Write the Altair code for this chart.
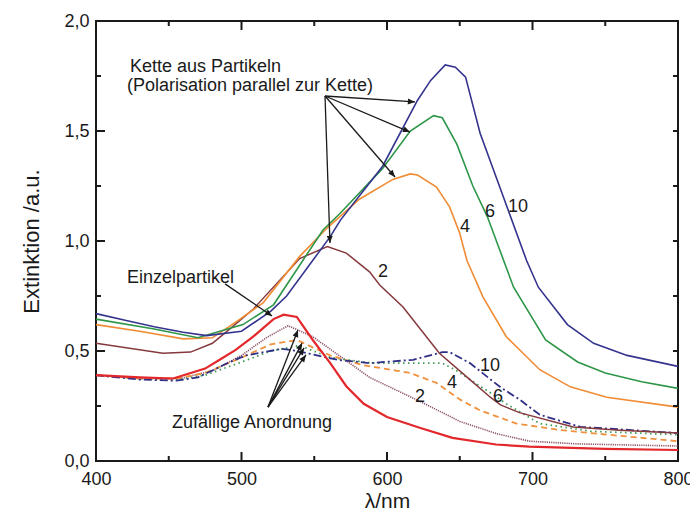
import math
import altair as alt
import pandas as pd

# ---------------- data ----------------
# Chain of particles, polarisation parallel to the chain
chain10_x = [400, 420, 440, 460, 476, 500, 520, 531, 561, 568, 597, 621, 630, 640, 647, 654, 664, 680, 696, 704, 724, 742, 765, 800]
chain10_y = [0.67, 0.64, 0.61, 0.585, 0.57, 0.59, 0.68, 0.75, 1.02, 1.095, 1.34, 1.64, 1.73, 1.80, 1.79, 1.745, 1.49, 1.20, 0.91, 0.79, 0.62, 0.535, 0.48, 0.43]

chain6_x = [400, 440, 470, 501, 522, 556, 568, 597, 616, 632, 638, 648, 659, 669, 678, 687, 709, 731, 750, 775, 800]
chain6_y = [0.645, 0.60, 0.56, 0.62, 0.71, 1.05, 1.127, 1.33, 1.50, 1.57, 1.56, 1.44, 1.25, 1.11, 0.95, 0.79, 0.55, 0.45, 0.40, 0.36, 0.33]

chain4_x = [400, 430, 460, 480, 498, 515, 540, 559, 581, 604, 616, 621, 634, 643, 650, 655, 666, 682, 705, 726, 751, 800]
chain4_y = [0.62, 0.59, 0.555, 0.56, 0.64, 0.72, 0.93, 1.06, 1.19, 1.28, 1.305, 1.30, 1.245, 1.155, 1.035, 0.91, 0.745, 0.565, 0.415, 0.337, 0.29, 0.245]

chain2_x = [400, 446, 465, 480, 491, 508, 540, 559, 572, 588, 595, 611, 636, 657, 671, 678, 691, 728, 760, 800]
chain2_y = [0.535, 0.49, 0.495, 0.535, 0.595, 0.69, 0.92, 0.975, 0.945, 0.86, 0.80, 0.70, 0.49, 0.37, 0.29, 0.255, 0.22, 0.155, 0.14, 0.127]

# Single particle
single_x = [400, 430, 453, 475, 485, 496, 508, 522, 529, 538, 549, 561, 572, 584, 600, 623, 645, 675, 698, 750, 800]
single_y = [0.39, 0.38, 0.375, 0.42, 0.46, 0.505, 0.565, 0.645, 0.665, 0.655, 0.55, 0.445, 0.34, 0.26, 0.20, 0.15, 0.105, 0.075, 0.065, 0.055, 0.05]

# Random arrangement
rand2_x = [400, 430, 458, 480, 500, 517, 532, 549, 568, 588, 623, 650, 675, 698, 730, 800]
rand2_y = [0.39, 0.375, 0.375, 0.41, 0.48, 0.56, 0.615, 0.565, 0.475, 0.38, 0.27, 0.18, 0.125, 0.09, 0.078, 0.068]

rand4_x = [400, 430, 455, 475, 500, 520, 538, 561, 584, 607, 616, 634, 650, 664, 689, 720, 751, 800]
rand4_y = [0.39, 0.375, 0.375, 0.40, 0.47, 0.53, 0.55, 0.48, 0.435, 0.41, 0.40, 0.355, 0.28, 0.23, 0.17, 0.14, 0.12, 0.09]

rand6_x = [400, 430, 455, 475, 500, 520, 540, 561, 590, 638, 648, 671, 682, 705, 740, 800]
rand6_y = [0.39, 0.375, 0.37, 0.39, 0.45, 0.50, 0.525, 0.47, 0.445, 0.445, 0.41, 0.31, 0.26, 0.17, 0.135, 0.12]

rand10_x = [400, 430, 455, 470, 492, 503, 528, 538, 566, 588, 618, 638, 643, 657, 678, 691, 705, 733, 800]
rand10_y = [0.39, 0.37, 0.365, 0.38, 0.45, 0.48, 0.51, 0.50, 0.46, 0.445, 0.46, 0.495, 0.495, 0.445, 0.335, 0.28, 0.21, 0.155, 0.127]

# Axis ticks / labels
x_label_values = [400, 500, 600, 700, 800]
x_major_ticks = [400, 500, 600, 700, 800]
x_minor_ticks = [450, 550, 650, 750]
y_label_values = [0.0, 0.5, 1.0, 1.5, 2.0]
y_major_ticks = [0.0, 0.5, 1.0, 1.5, 2.0]
y_minor_ticks = [0.25, 0.75, 1.25, 1.75]

# Annotation texts
note_text = ["Kette aus Partikeln", "(Polarisation parallel zur Kette)", "Einzelpartikel", "Zufällige Anordnung"]
note_x = [423.4, 421.3, 421.3, 452.2]
note_y = [1.79, 1.705, 0.832, 0.173]

# Curve number labels
num_text = ["10", "6", "4", "2", "10", "4", "6", "2"]
num_x = [690, 670.8, 653.6, 597.3, 670.8, 644.7, 676.3, 622.7]
num_y = [1.155, 1.132, 1.064, 0.859, 0.432, 0.355, 0.291, 0.291]

# Arrows (start -> end)
arrow_x0 = [557.4, 557.4, 557.4, 557.4, 488.7, 518.2, 518.2, 518.2, 518.2]
arrow_y0 = [1.659, 1.659, 1.659, 1.659, 0.805, 0.245, 0.245, 0.245, 0.245]
arrow_x1 = [619.2, 615.8, 605.5, 560.8, 521.0, 538.8, 541.6, 543.0, 544.3]
arrow_y1 = [1.632, 1.495, 1.291, 0.991, 0.659, 0.595, 0.536, 0.514, 0.482]

# ---------------- chart ----------------
W, H = 582, 440
FONT = "Liberation Sans"
INK = "#1a1a1a"

x_scale = alt.Scale(domain=[400, 800], nice=False, zero=False)
y_scale = alt.Scale(domain=[0, 2], nice=False, zero=False)

x_axis = alt.Axis(title="λ/nm", values=x_label_values, format="d", ticks=False, domain=False,
                  grid=False, labelFontSize=18, labelFont=FONT, labelColor=INK, labelPadding=9,
                  labelFlush=False, labelOverlap=False,
                  titleFontSize=21, titleFont=FONT, titleFontWeight="normal", titleColor=INK,
                  titlePadding=2)
y_axis = alt.Axis(title="Extinktion /a.u.", values=y_label_values,
                  labelExpr="replace(format(datum.value, '.1f'), '.', ',')",
                  ticks=False, domain=False, grid=False, labelFontSize=18, labelFont=FONT,
                  labelColor=INK, labelPadding=7, labelFlush=False, labelOverlap=False,
                  titleFontSize=22, titleFont=FONT, titleFontWeight="normal", titleColor=INK,
                  titlePadding=20)

X = lambda f: alt.X(f, type="quantitative", scale=x_scale, axis=x_axis)
Y = lambda f: alt.Y(f, type="quantitative", scale=y_scale, axis=y_axis)


def line(xs, ys, color, width, dash=None):
    d = pd.DataFrame({"x": xs, "y": ys, "o": range(len(xs))})
    kw = dict(color=color, strokeWidth=width, interpolate="linear")
    if dash:
        kw["strokeDash"] = dash
    return alt.Chart(d).mark_line(**kw).encode(x=X("x"), y=Y("y"), order="o:Q")


layers = [
    line(rand2_x, rand2_y, "#8e5468", 1.6, [1.2, 1.0]),
    line(rand6_x, rand6_y, "#3f9a55", 1.8, [1.5, 3.5]),
    line(rand4_x, rand4_y, "#f0913e", 1.8, [6, 4]),
    line(rand10_x, rand10_y, "#2f2f86", 1.8, [8, 3, 2, 3]),
    line(single_x, single_y, "#e3272b", 2.2),
    line(chain2_x, chain2_y, "#86393c", 1.5),
    line(chain4_x, chain4_y, "#f08c34", 1.6),
    line(chain6_x, chain6_y, "#2e9649", 1.6),
    line(chain10_x, chain10_y, "#34348e", 1.6),
]

# arrows
px_x = W / 400.0
px_y = H / 2.0
angles = []
for x0, y0, x1, y1 in zip(arrow_x0, arrow_y0, arrow_x1, arrow_y1):
    dx = (x1 - x0) * px_x
    dy = -(y1 - y0) * px_y
    angles.append(math.degrees(math.atan2(dx, -dy)) % 360)
arrows = pd.DataFrame({"x0": arrow_x0, "y0": arrow_y0, "x1": arrow_x1, "y1": arrow_y1, "a": angles})
arrow_lines = alt.Chart(arrows).mark_rule(color=INK, strokeWidth=1.3).encode(
    x=X("x0"), y=Y("y0"), x2="x1", y2="y1")
arrow_heads = alt.Chart(arrows).mark_point(
    shape="M0,0 L-0.42,1 L0.42,1 Z", filled=True, color=INK, opacity=1, size=200, strokeWidth=0
).encode(x=X("x1"), y=Y("y1"), angle=alt.Angle("a:Q", scale=None))
layers += [arrow_lines, arrow_heads]

# texts
notes = pd.DataFrame({"t": note_text, "x": note_x, "y": note_y})
layers.append(alt.Chart(notes).mark_text(align="left", baseline="middle", font=FONT,
                                         fontSize=18, color=INK).encode(x=X("x"), y=Y("y"), text="t"))
nums = pd.DataFrame({"t": num_text, "x": num_x, "y": num_y})
layers.append(alt.Chart(nums).mark_text(align="center", baseline="middle", font=FONT,
                                        fontSize=18, color=INK).encode(x=X("x"), y=Y("y"), text="t"))

# inward ticks on all four sides
MAJ, MIN = 9, 5
xt_major = pd.DataFrame({"v": x_major_ticks})
xt_minor = pd.DataFrame({"v": x_minor_ticks})
yt_major = pd.DataFrame({"v": y_major_ticks})
yt_minor = pd.DataFrame({"v": y_minor_ticks})
for dfv, ln in ((xt_major, MAJ), (xt_minor, MIN)):
    layers.append(alt.Chart(dfv).mark_rule(color=INK, strokeWidth=2).encode(
        x=X("v"), y=alt.value(H), y2=alt.value(H - ln)))
    layers.append(alt.Chart(dfv).mark_rule(color=INK, strokeWidth=2).encode(
        x=X("v"), y=alt.value(0), y2=alt.value(ln)))
for dfv, ln in ((yt_major, MAJ), (yt_minor, MIN)):
    layers.append(alt.Chart(dfv).mark_rule(color=INK, strokeWidth=2).encode(
        y=Y("v"), x=alt.value(0), x2=alt.value(ln)))
    layers.append(alt.Chart(dfv).mark_rule(color=INK, strokeWidth=2).encode(
        y=Y("v"), x=alt.value(W), x2=alt.value(W - MIN)))

chart = alt.layer(*layers).properties(
    width=W, height=H,
    autosize=alt.AutoSizeParams(type="none"),
    padding={"left": 88, "top": 13, "right": 12, "bottom": 53},
    background="white",
).configure_view(stroke=INK, strokeWidth=2)

chart.save("out.html", embed_options={"renderer": "svg", "actions": False})
